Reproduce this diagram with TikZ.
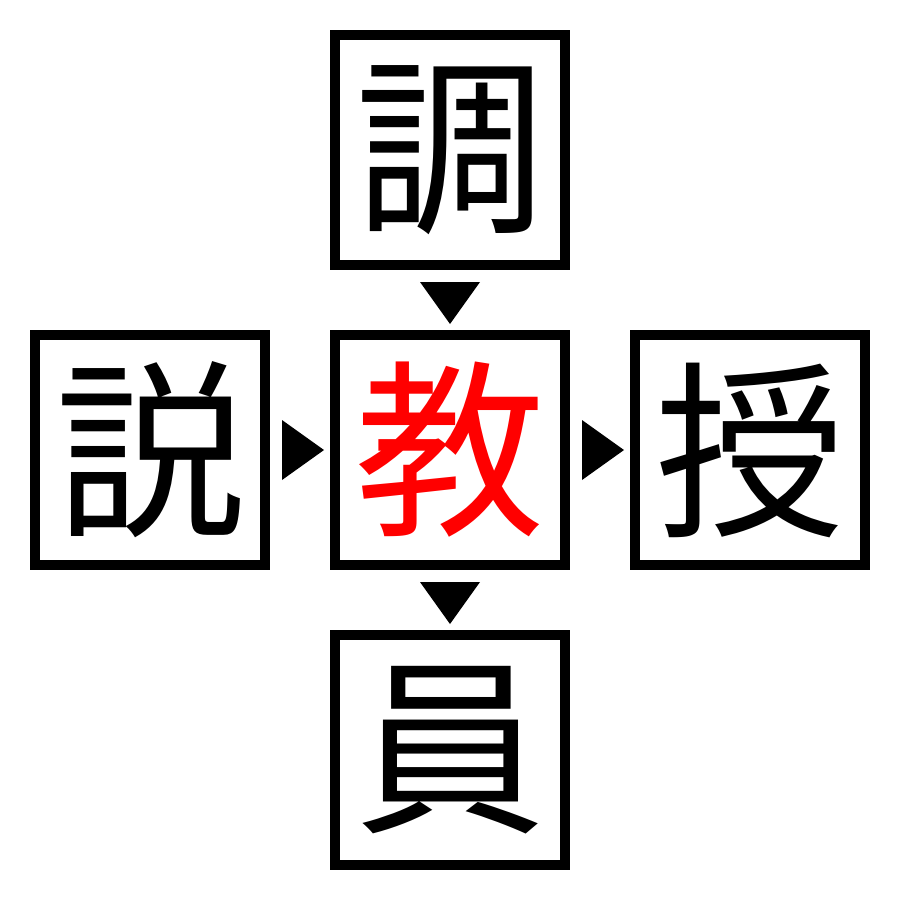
\documentclass[tikz,border=0pt]{standalone}
\usepackage{fontspec}
\newfontfamily\cjk{Noto Sans CJK JP}
\usetikzlibrary{calc}
\begin{document}
\begin{tikzpicture}[x=1pt,y=-1pt,
  kbox/.style={draw=black,line width=10pt,minimum size=230pt,inner sep=0pt,outer sep=0pt,
    font=\cjk\fontsize{190}{190}\selectfont},
  tri/.style={fill=black,draw=none}]
\useasboundingbox[fill=white] (0,0) rectangle (900,900);
\node[kbox] (t) at (450,150) {調};
\node[kbox] (l) at (150,450) {説};
\node[kbox,text=red] (c) at (450,450) {教};
\node[kbox] (r) at (750,450) {授};
\node[kbox] (b) at (450,750) {員};
\fill[tri] ($(t.south)+(-30,17)$) -- ($(t.south)+(30,17)$) -- ($(t.south)+(0,59)$) -- cycle;
\fill[tri] ($(l.east)+(17,-30)$) -- ($(l.east)+(17,30)$) -- ($(l.east)+(59,0)$) -- cycle;
\fill[tri] ($(c.east)+(17,-30)$) -- ($(c.east)+(17,30)$) -- ($(c.east)+(59,0)$) -- cycle;
\fill[tri] ($(c.south)+(-30,17)$) -- ($(c.south)+(30,17)$) -- ($(c.south)+(0,59)$) -- cycle;
\end{tikzpicture}
\end{document}
